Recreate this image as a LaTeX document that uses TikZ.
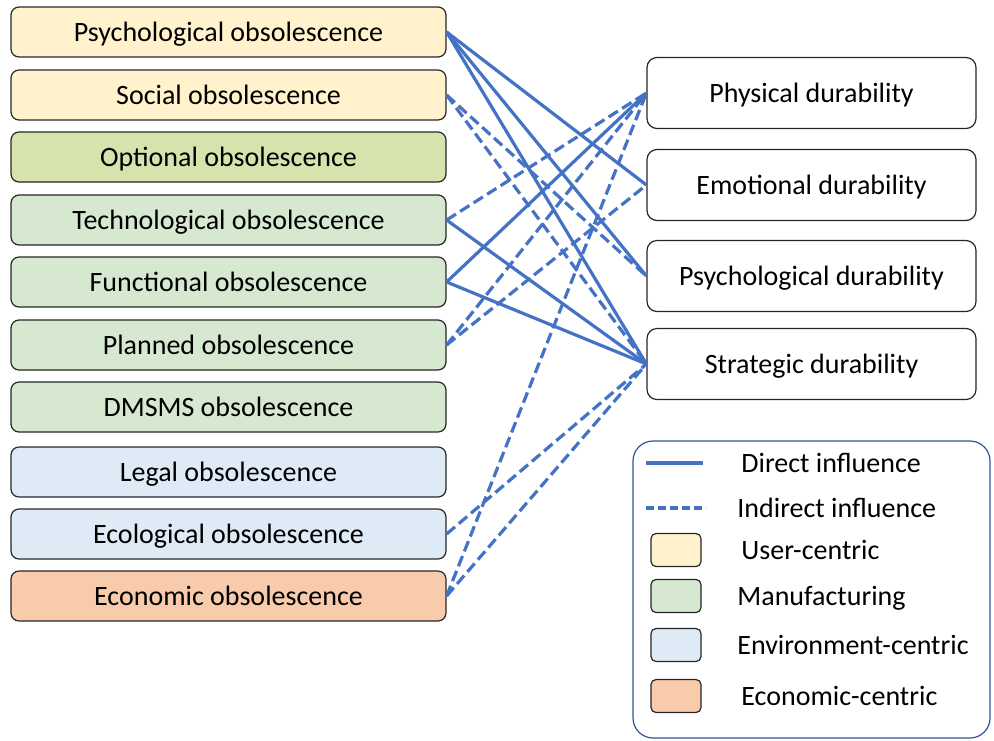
\documentclass[tikz,border=0pt]{standalone}
\usepackage{fontspec}
\setmainfont{Carlito}
\usetikzlibrary{positioning}
\definecolor{linkblue}{RGB}{68,114,196}
\definecolor{cuser}{RGB}{255,242,204}
\definecolor{copt}{RGB}{214,227,172}
\definecolor{cmanu}{RGB}{214,232,208}
\definecolor{cenv}{RGB}{222,235,247}
\definecolor{cecon}{RGB}{248,203,173}
\definecolor{legframe}{RGB}{47,84,150}

\begin{document}
\begin{tikzpicture}[x=0.5pt,y=-0.5pt,
  obs/.style={draw=black!85, rounded corners=4pt, line width=0.6pt, minimum width=217.5pt, minimum height=25pt, inner sep=0pt, text height=11.6pt, text depth=2.6pt, font=\fontsize{14}{16}\selectfont},
  dur/.style={draw=black!85, rounded corners=5pt, line width=0.6pt, fill=white, minimum width=164.5pt, minimum height=35.5pt, inner sep=0pt, text height=11.6pt, text depth=2.6pt, font=\fontsize{14}{16}\selectfont},
  swatch/.style={draw=black!85, rounded corners=2.5pt, line width=0.6pt, minimum width=25pt, minimum height=16.5pt, inner sep=0pt},
  legtext/.style={anchor=west, inner sep=0pt, text height=11.6pt, text depth=2.6pt, font=\fontsize{14}{16}\selectfont},
  direct/.style={linkblue, line width=1.6pt},
  indirect/.style={linkblue, line width=1.6pt, dash pattern=on 5.5pt off 2.5pt}]
\useasboundingbox (0,0) rectangle (994,740);

% obsolescence types
\foreach \n/\y/\col/\txt in {
  psy/32/cuser/Psychological obsolescence,
  soc/95/cuser/Social obsolescence,
  opt/157/copt/Optional obsolescence,
  tec/220/cmanu/Technological obsolescence,
  fun/282/cmanu/Functional obsolescence,
  pla/345/cmanu/Planned obsolescence,
  dms/407/cmanu/DMSMS obsolescence,
  leg/472/cenv/Legal obsolescence,
  ecl/534/cenv/Ecological obsolescence,
  ecn/596/cecon/Economic obsolescence} {
  \node[obs, fill=\col] (\n) at (228.5,\y) {\txt};
}

% durability types
\foreach \n/\y/\txt in {phy/93/Physical durability, emo/185/Emotional durability,
  psd/276/Psychological durability, str/364/Strategic durability}
  \node[dur] (\n) at (811.5,\y) {\txt};

% influences
\foreach \a/\b in {psy/emo, psy/psd, psy/str, tec/str, fun/phy, fun/str}
  \draw[direct] (\a.east) -- (\b.west);
\foreach \a/\b in {soc/psd, soc/str, tec/phy, pla/phy, pla/emo, ecl/str, ecn/str, ecn/phy}
  \draw[indirect] (\a.east) -- (\b.west);

% legend
\draw[legframe, line width=0.6pt, rounded corners=10pt] (633,441) rectangle (990,738);
\draw[direct] (646,463) -- (703,463);
\draw[linkblue, line width=1.6pt, dash pattern=on 4pt off 2pt] (646,508) -- (706,508);
\node[legtext] (ldir) at (741,463) {Direct influence};
\node[legtext] (lind) at (737,508) {Indirect influence};
\foreach \n/\y/\col/\dx/\txt in {user/550/cuser/741/User-centric, manu/596/cmanu/737/Manufacturing,
  env/645/cenv/737/Environment-centric, econ/696/cecon/741/Economic-centric} {
  \node[swatch, fill=\col] (s\n) at (676,\y) {};
  \node[legtext] (l\n) at (\dx,\y) {\txt};
}
\end{tikzpicture}
\end{document}
